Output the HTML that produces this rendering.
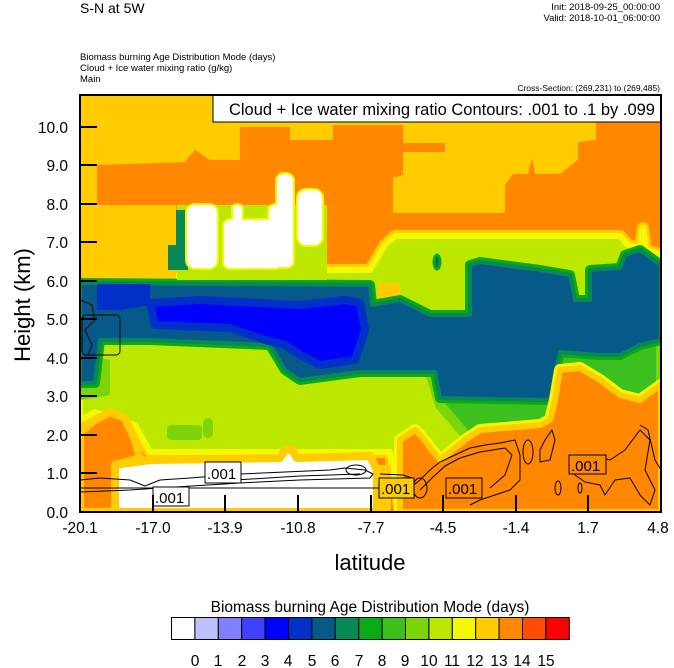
<!DOCTYPE html>
<html><head><meta charset="utf-8"><style>
body{margin:0;background:#fff;}
svg{display:block;font-family:"Liberation Sans",sans-serif;}
</style></head><body>
<svg width="674" height="668" viewBox="0 0 674 668" xmlns="http://www.w3.org/2000/svg" xml:space="preserve">
<defs><clipPath id="pc"><rect x="80" y="95" width="581" height="417"/></clipPath></defs>
<g clip-path="url(#pc)" stroke-linejoin="round">
<rect x="80" y="95" width="581" height="417" fill="#FF8800"/>
<polygon fill="#FFCC00" points="80,95 405,95 405,125 333,125 333,140 290,140 290,127 240,127 240,160 210,160 195,150 185,162 97,165 97,205 175,205 177,260 185,283 140,285 120,285 110,285 80,285"/>
<polygon fill="#FFCC00" points="403,95 596,95 596,140 578,142 578,160 560,174 535,174 532,158 528,174 513,174 505,185 505,213 393,213 393,178 403,175 403,152 445,152 445,143 403,143"/>
<polygon fill="#BCE800" stroke="#FFCC00" stroke-width="12" points="80,283 97,283 178,283 180,270 370,270 385,245 395,236 620,236 628,245 640,248 643,228 646,250 661,255 661,512 400,512 390,452 150,452 135,425 95,412 80,420"/>
<polygon fill="#BCE800" stroke="#F5F800" stroke-width="6" points="80,283 97,283 178,283 180,270 370,270 385,245 395,236 620,236 628,245 640,248 643,228 646,250 661,255 661,512 400,512 390,452 150,452 135,425 95,412 80,420"/>
<rect x="378" y="283" width="22" height="18" fill="#FFCC00"/>
<rect x="167" y="425" width="35" height="15" rx="4" fill="#7CD40A"/>
<rect x="203" y="418" width="10" height="20" rx="5" fill="#7CD40A"/>
<polygon fill="#7CD40A" points="80,355 110,360 110,395 95,398 80,400"/>
<polygon fill="#3CC01E" stroke="#7CD40A" stroke-width="10" points="430,372 560,340 661,330 661,400 560,400 545,430 470,440 440,405"/>
<polygon fill="#065A8A" stroke="#0AAA14" stroke-width="10" points="80,283 370,285 372,305 400,300 430,315 470,315 470,265 480,262 540,270 570,275 575,300 590,300 590,270 620,268 625,255 640,250 661,265 661,340 640,345 620,355 600,355 560,352 550,400 440,398 435,372 360,372 300,380 285,370 270,345 150,340 100,340 95,383 80,383"/>
<polygon fill="#065A8A" stroke="#088855" stroke-width="4" points="80,283 370,285 372,305 400,300 430,315 470,315 470,265 480,262 540,270 570,275 575,300 590,300 590,270 620,268 625,255 640,250 661,265 661,340 640,345 620,355 600,355 560,352 550,400 440,398 435,372 360,372 300,380 285,370 270,345 150,340 100,340 95,383 80,383"/>
<ellipse cx="437" cy="262" rx="3" ry="7" fill="#065A8A" stroke="#0AAA14" stroke-width="3"/>
<polygon fill="#0000FF" stroke="#0030C8" stroke-width="8" points="150,303 200,300 300,305 345,300 360,303 365,330 355,360 320,365 300,355 285,345 265,340 230,328 155,325"/>
<polygon fill="#0030C8" points="97,284 150,284 150,305 120,310 97,310"/>
<polygon fill="#FF8800" stroke="#FFCC00" stroke-width="8" points="80,512 80,432 95,420 110,412 125,418 135,440 140,458 115,465 115,512"/>
<polygon fill="#FF8800" stroke="#F5F800" stroke-width="12" points="400,512 400,440 415,430 420,435 440,460 465,440 480,430 540,425 550,420 555,400 560,370 580,368 600,380 620,395 640,400 661,385 661,512"/>
<polygon fill="#FF8800" stroke="#FFCC00" stroke-width="6" points="400,512 400,440 415,430 420,435 440,460 465,440 480,430 540,425 550,420 555,400 560,370 580,368 600,380 620,395 640,400 661,385 661,512"/>
<rect x="377" y="465" width="14" height="47" fill="#FFCC00"/>
<polygon fill="#FFFFFF" stroke="#FFCC00" stroke-width="8" points="115,512 115,465 150,460 280,458 285,450 292,450 297,458 370,456 377,470 377,512"/>
<rect x="177" y="205" width="150" height="75" fill="#BCE800"/>
<rect x="168" y="210" width="20" height="60" fill="#088855"/>
<rect x="168" y="205" width="8" height="40" fill="#FFCC00"/>
<g fill="#FFFFFF" stroke="#F5F800" stroke-width="4">
<rect x="187" y="205" width="30" height="63" rx="8"/>
<rect x="224" y="220" width="57" height="48" rx="6"/>
<rect x="233" y="205" width="9" height="30" rx="4"/>
<rect x="277" y="174" width="16" height="60" rx="7"/>
<rect x="269" y="205" width="24" height="62" rx="6"/>
<rect x="298" y="190" width="24" height="55" rx="8"/>
</g>
<g fill="#FFFFFF">
<rect x="187" y="205" width="30" height="63" rx="8"/>
<rect x="224" y="220" width="57" height="48" rx="6"/>
<rect x="233" y="205" width="9" height="30" rx="4"/>
<rect x="277" y="174" width="16" height="60" rx="7"/>
<rect x="269" y="205" width="24" height="62" rx="6"/>
<rect x="298" y="190" width="24" height="55" rx="8"/>
</g>
<g fill="none" stroke="#000" stroke-width="1">
<path d="M80,480 L100,478 L130,480 L145,486 L160,480 L190,478 L240,474 L330,470 L345,468 L365,470 L373,474 L370,478 L300,480 L240,483 L160,488 L130,490 L80,492"/>
<path d="M80,488 L410,488 L412,478 L403,475 L380,474"/>
<path d="M235,480 L300,476 L360,474"/>
<ellipse cx="356" cy="470" rx="10" ry="5"/>
<path d="M410,488 L420,480 L430,470 L440,462 L455,455 L470,448 L485,445 L500,443 L515,440 L520,455 L520,480 L510,490 L495,495 L480,500 L470,505"/>
<path d="M420,490 L432,478 L445,466 L460,458 L480,452 L505,448 L512,455 L505,475 L490,488"/>
<ellipse cx="528" cy="452" rx="5" ry="12"/>
<path d="M540,450 L545,440 L552,430 L555,440 L550,460 L540,462 Z"/>
<ellipse cx="420" cy="488" rx="7" ry="10"/>
<path d="M575,465 L590,455 L610,460 L625,450 L640,430 L650,440 L645,470 L655,490 L650,505 L640,495 L630,478 L615,480 L605,495 L600,485 L585,482 L575,475 Z"/>
<path d="M640,425 L648,430 L655,460 L661,470"/>
<ellipse cx="558" cy="488" rx="3" ry="7"/>
<ellipse cx="580" cy="488" rx="2" ry="5"/>
<rect x="82" y="315" width="38" height="40" rx="4"/>
<path d="M80,300 L92,305 L95,320 L85,330 L92,345 L88,355"/>
</g>
<g font-size="15" fill="#000">
<rect x="205" y="462" width="36" height="21" fill="#fff" stroke="#000"/><text x="207" y="479">.001</text>
<rect x="153" y="487" width="36" height="19" fill="#fff" stroke="#000"/><text x="155" y="503">.001</text>
<rect x="379" y="478" width="35" height="20" fill="#FFCC00" stroke="#000"/><text x="381" y="494">.001</text>
<rect x="446" y="478" width="36" height="20" fill="#FF8800" stroke="#000"/><text x="448" y="494">.001</text>
<rect x="569" y="455" width="37" height="19" fill="#FF8800" stroke="#000"/><text x="571" y="471">.001</text>
</g>
</g>
<rect x="213" y="95" width="448" height="27" fill="#fff" stroke="#000" stroke-width="1"/>
<text x="655" y="115" font-size="16.5" text-anchor="end">Cloud + Ice water mixing ratio Contours: .001 to .1 by .099</text>
<rect x="80" y="95" width="581" height="417" fill="none" stroke="#000" stroke-width="2"/>
<g stroke="#000" stroke-width="2">
<line x1="80" y1="127" x2="97" y2="127"/><line x1="80" y1="165" x2="97" y2="165"/><line x1="80" y1="204" x2="97" y2="204"/><line x1="80" y1="242" x2="97" y2="242"/><line x1="80" y1="281" x2="97" y2="281"/><line x1="80" y1="319" x2="97" y2="319"/><line x1="80" y1="358" x2="97" y2="358"/><line x1="80" y1="396" x2="97" y2="396"/><line x1="80" y1="435" x2="97" y2="435"/><line x1="80" y1="473" x2="97" y2="473"/>
<line x1="153" y1="512" x2="153" y2="495"/><line x1="225" y1="512" x2="225" y2="495"/><line x1="298" y1="512" x2="298" y2="495"/><line x1="371" y1="512" x2="371" y2="495"/><line x1="443" y1="512" x2="443" y2="495"/><line x1="516" y1="512" x2="516" y2="495"/><line x1="588" y1="512" x2="588" y2="495"/>
</g>
<g font-size="15.5" text-anchor="end" fill="#000">
<text x="68" y="133">10.0</text><text x="68" y="171">9.0</text><text x="68" y="210">8.0</text><text x="68" y="248">7.0</text><text x="68" y="287">6.0</text><text x="68" y="325">5.0</text><text x="68" y="364">4.0</text><text x="68" y="402">3.0</text><text x="68" y="441">2.0</text><text x="68" y="479">1.0</text><text x="68" y="518">0.0</text>
</g>
<g font-size="15.5" text-anchor="middle" fill="#000">
<text x="80" y="533">-20.1</text><text x="153" y="533">-17.0</text><text x="225" y="533">-13.9</text><text x="298" y="533">-10.8</text><text x="371" y="533">-7.7</text><text x="443" y="533">-4.5</text><text x="516" y="533">-1.4</text><text x="588" y="533">1.7</text><text x="658" y="533">4.8</text>
</g>
<text x="370" y="570" font-size="22" text-anchor="middle">latitude</text>
<text transform="translate(30,305) rotate(-90)" font-size="22" text-anchor="middle">Height (km)</text>
<text x="80" y="13" font-size="14">S-N at 5W</text>
<text x="660" y="10" font-size="9.5" text-anchor="end">Init: 2018-09-25_00:00:00</text>
<text x="660" y="21" font-size="9.5" text-anchor="end">Valid: 2018-10-01_06:00:00</text>
<text x="80" y="60" font-size="9.5">Biomass burning Age Distribution Mode   (days)</text>
<text x="80" y="71" font-size="9.5">Cloud + Ice water mixing ratio   (g/kg)</text>
<text x="80" y="82" font-size="9.5">Main</text>
<text x="660" y="91" font-size="8.5" text-anchor="end">Cross-Section: (269,231) to (269,485)</text>
<text x="370" y="612" font-size="15.5" text-anchor="middle">Biomass burning Age Distribution Mode  (days)</text>
<g stroke="#000" stroke-width="1">
<rect x="171.5" y="617.5" width="23.4" height="22" fill="#FFFFFF"/>
<rect x="194.9" y="617.5" width="23.4" height="22" fill="#C0C0FF"/>
<rect x="218.3" y="617.5" width="23.4" height="22" fill="#8080FF"/>
<rect x="241.7" y="617.5" width="23.4" height="22" fill="#4040FF"/>
<rect x="265.1" y="617.5" width="23.4" height="22" fill="#0000FF"/>
<rect x="288.5" y="617.5" width="23.4" height="22" fill="#0030C8"/>
<rect x="311.9" y="617.5" width="23.4" height="22" fill="#065A8A"/>
<rect x="335.3" y="617.5" width="23.4" height="22" fill="#088855"/>
<rect x="358.7" y="617.5" width="23.4" height="22" fill="#0AAA14"/>
<rect x="382.1" y="617.5" width="23.4" height="22" fill="#3CC01E"/>
<rect x="405.5" y="617.5" width="23.4" height="22" fill="#7CD40A"/>
<rect x="428.9" y="617.5" width="23.4" height="22" fill="#BCE800"/>
<rect x="452.3" y="617.5" width="23.4" height="22" fill="#F5F800"/>
<rect x="475.7" y="617.5" width="23.4" height="22" fill="#FFCC00"/>
<rect x="499.1" y="617.5" width="23.4" height="22" fill="#FF8800"/>
<rect x="522.5" y="617.5" width="23.4" height="22" fill="#FF4C00"/>
<rect x="545.9" y="617.5" width="23.4" height="22" fill="#FF0000"/>
</g>
<g font-size="15.5" text-anchor="middle" fill="#000">
<text x="195" y="666">0</text><text x="218" y="666">1</text><text x="242" y="666">2</text><text x="265" y="666">3</text><text x="288" y="666">4</text><text x="312" y="666">5</text><text x="335" y="666">6</text><text x="359" y="666">7</text><text x="382" y="666">8</text><text x="405" y="666">9</text><text x="429" y="666">10</text><text x="452" y="666">11</text><text x="475" y="666">12</text><text x="499" y="666">13</text><text x="522" y="666">14</text><text x="546" y="666">15</text>
</g>
</svg>
</body></html>
